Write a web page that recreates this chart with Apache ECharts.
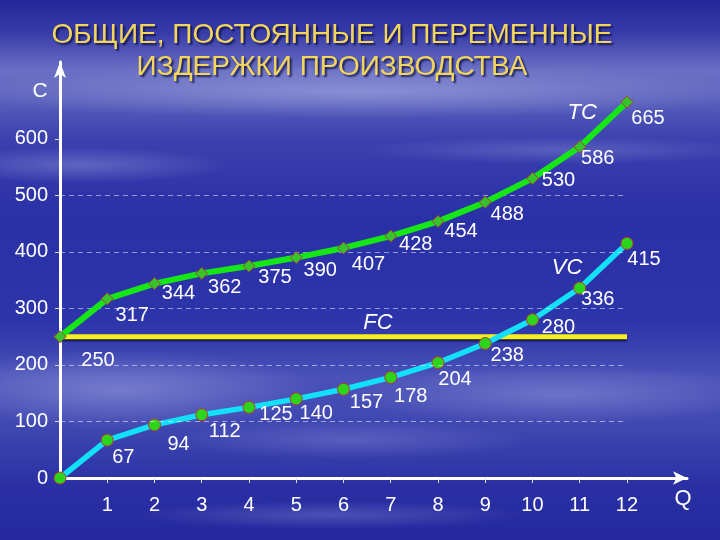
<!DOCTYPE html>
<html><head><meta charset="utf-8">
<script src="https://cdn.jsdelivr.net/npm/echarts@6/dist/echarts.min.js"></script>
<style>html,body{margin:0;padding:0;background:#2a2ea0;}#c{width:720px;height:540px;}</style>
</head><body><div id="c"></div>
<script>
// ---- data ----
const quantities = [0,1,2,3,4,5,6,7,8,9,10,11,12];
const tcValues = [250,317,344,362,375,390,407,428,454,488,530,586,665];
const vcValues = [0,67,94,112,125,140,157,178,204,238,280,336,415];
const fcValues = [250,250,250,250,250,250,250,250,250,250,250,250,250];
const xTickLabels = [1,2,3,4,5,6,7,8,9,10,11,12];
const yTickLabels = [0,100,200,300,400,500,600];
const gridLevels = [100,200,300,400,500];
const titleLines = ['ОБЩИЕ, ПОСТОЯННЫЕ И ПЕРЕМЕННЫЕ', 'ИЗДЕРЖКИ ПРОИЗВОДСТВА'];

// ---- layout (label offsets in px) ----
const tcLabelOffsets = [[38,24],[25,17],[24,10],[23,14],[26,11],[24,13],[25,17],[25,8],[23,10],[22,12],[26,2],[18,12],[21,16]];
const vcLabelOffsets = [null,[16,17],[24,20],[23,17],[27,7],[20,15],[23,13],[20,19],[17,17],[22,12],[26,8],[18,11],[17,16]];

const FONT = '"Liberation Sans", Arial, sans-serif';
const chart = echarts.init(document.getElementById('c'), null, {renderer:'canvas'});

function mkData(vals, offs){
  return vals.map((v,i)=>({
    value:[quantities[i], v],
    label: offs[i] ? {show:true, offset:offs[i]} : {show:false}
  }));
}
const labelBase = {show:true, position:'inside', color:'#ffffff', fontSize:20, fontFamily:FONT,
  formatter: p => p.value[1]};

const bg = new echarts.graphic.LinearGradient(0,0,0,1,[
  {offset:0,color:'#24279a'},{offset:0.06,color:'#373ba8'},{offset:0.13,color:'#6a70c4'},
  {offset:0.19,color:'#565dba'},{offset:0.26,color:'#3a40ae'},{offset:0.4,color:'#2a30a6'},
  {offset:0.6,color:'#2d35aa'},{offset:0.7,color:'#4a52b8'},{offset:0.8,color:'#3d45b0'},
  {offset:0.9,color:'#2a30a4'},{offset:1,color:'#23289e'}]);

function streak(cx, cy, rx, ry, a){
  return {type:'circle', silent:true, z:-10, x:cx, y:cy, scaleX:rx/50, scaleY:ry/50,
    shape:{cx:0,cy:0,r:50},
    style:{fill:new echarts.graphic.RadialGradient(0.5,0.5,0.5,[
      {offset:0,color:'rgba(220,225,255,'+a+')'},{offset:1,color:'rgba(220,225,255,0)'}])}};
}

chart.setOption({
  backgroundColor: bg,
  animation:false,
  grid:{left:60, right:33, top:62, bottom:62, containLabel:false},
  xAxis:{type:'value', min:0, max:13.27,
    axisLine:{show:true, lineStyle:{color:'#ffffff', width:3}, symbol:['none','arrow'], symbolSize:[10,14]},
    axisTick:{show:true, customValues:xTickLabels, length:5, lineStyle:{color:'#dddddd', width:1}},
    axisLabel:{customValues:xTickLabels, color:'#ffffff', fontSize:20, fontFamily:FONT, margin:17},
    splitLine:{show:false}},
  yAxis:{type:'value', min:0, max:736,
    axisLine:{show:true, lineStyle:{color:'#ffffff', width:3}, symbol:['none','arrow'], symbolSize:[9,16]},
    axisTick:{show:true, customValues:yTickLabels.slice(1), length:5, lineStyle:{color:'#dddddd', width:1}},
    axisLabel:{customValues:yTickLabels, color:'#ffffff', fontSize:20, fontFamily:FONT, margin:12},
    splitLine:{show:false}},
  series:[
    {name:'FC', type:'line', z:2, symbol:'none',
      data: fcValues.map((v,i)=>[quantities[i], v]),
      lineStyle:{color:'#f6f020', width:5, shadowColor:'rgba(0,0,30,0.7)', shadowOffsetY:2, shadowBlur:2},
      markLine:{silent:true, symbol:'none', label:{show:false},
        lineStyle:{color:'rgba(255,255,255,0.5)', type:[5,4], width:1},
        data: gridLevels.map(v=>[{coord:[0,v]},{coord:[12,v]}])}},
    {name:'VC', type:'line', z:4, symbol:'circle', symbolSize:12,
      data: mkData(vcValues, vcLabelOffsets),
      lineStyle:{color:'#12e0f8', width:5.5},
      itemStyle:{color:'#2cd41c', borderColor:'#b83a30', borderWidth:1},
      label: labelBase},
    {name:'TC', type:'line', z:5, symbol:'diamond', symbolSize:12,
      data: mkData(tcValues, tcLabelOffsets),
      lineStyle:{color:'#16e616', width:6},
      itemStyle:{color:'#36c42c', borderColor:'#a84030', borderWidth:1},
      label: labelBase}
  ]
});

function px(pt){ return chart.convertToPixel({gridIndex:0}, pt); }
const tcPos = px([11.05, 646]);
const vcPos = px([10.73, 372]);
const fcPos = px([6.73, 274]);
function txt(x,y,text,font,fill,extra){
  return Object.assign({type:'text', x:x, y:y, z:20, silent:true,
    style:Object.assign({text:text, font:font, fill:fill, align:'center', verticalAlign:'middle'}, extra||{})});
}
const titleStyle = {textShadowColor:'rgba(10,10,60,0.8)', textShadowOffsetX:2, textShadowOffsetY:2, textShadowBlur:2};
chart.setOption({graphic:[
  streak(360,92,420,26,0.35),
  streak(80,165,150,18,0.25),
  streak(560,150,200,14,0.2),
  streak(120,390,200,40,0.3),
  streak(560,395,220,30,0.25),
  streak(350,440,180,20,0.18),
  streak(330,515,200,14,0.2),
  txt(332,35,titleLines[0],'28px '+FONT,'#f2d65c',titleStyle),
  txt(332,67,titleLines[1],'28px '+FONT,'#f2d65c',titleStyle),
  txt(40,91,'C','21px '+FONT,'#ffffff'),
  txt(683,499,'Q','22px '+FONT,'#ffffff'),
  txt(tcPos[0],tcPos[1],'TC','italic 22px '+FONT,'#ffffff'),
  txt(vcPos[0],vcPos[1],'VC','italic 22px '+FONT,'#ffffff'),
  txt(fcPos[0],fcPos[1],'FC','italic 22px '+FONT,'#ffffff')
]});
</script></body></html>
